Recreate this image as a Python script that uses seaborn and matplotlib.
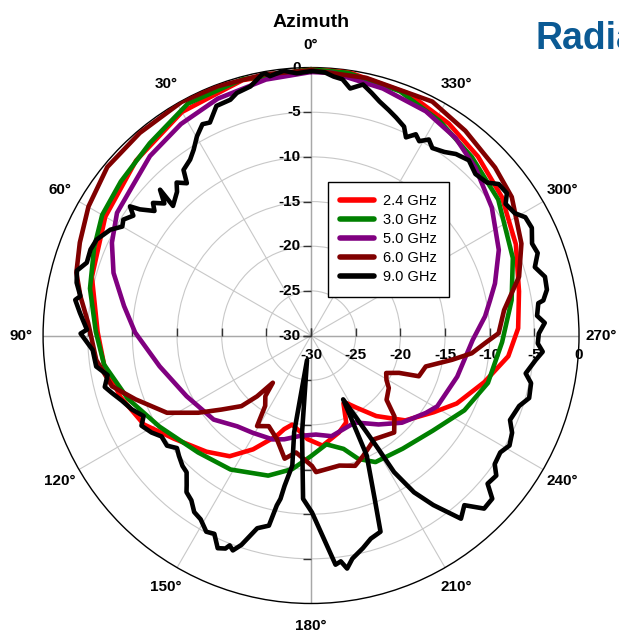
import numpy as np
import pandas as pd
import matplotlib
matplotlib.use('Agg')
import matplotlib.pyplot as plt
import seaborn as sns


freqs = ['2.4 GHz', '3.0 GHz', '5.0 GHz', '6.0 GHz', '9.0 GHz']
colors = ['#ff0000', '#008000', '#800080', '#800000', '#000000']

# azimuth angle (deg) and gain (dB)
ang_24 = [0, 15, 30, 45, 60, 75, 89, 98, 108, 118,
          127, 138, 146, 153, 161, 164, 168, 174, 178, 186,
          196, 202, 205.6, 208, 212, 219, 228, 238, 245, 255,
          264, 272, 282, 294, 306, 317, 327, 338, 352, 360]
db_24 = [-0.2, -0.4, -1.1, -2.3, -3.4, -4.6, -6.1, -6.6, -7.6, -8.8,
         -10.8, -12.5, -13.7, -15.7, -18.1, -19.1, -19.8, -19.1, -18.4, -17.6,
         -18.7, -19.5, -21.6, -21.4, -20.5, -18.4, -15.8, -13.8, -12.0, -9.9,
         -7.8, -6.8, -6.2, -4.9, -3.6, -2.6, -1.7, -0.8, -0.2, -0.2]

ang_30 = [0, 15, 28, 40, 51, 60, 68, 78, 89, 98,
          109, 121, 136, 149, 163, 172, 180, 188, 196, 201,
          207, 219, 232, 244, 255, 268, 280, 291, 306, 318,
          329, 340, 352, 360]
db_30 = [-0.2, -0.3, -0.6, -1.9, -2.6, -3.0, -3.8, -4.7, -5.9, -6.6,
         -8.3, -10.2, -11.8, -12.5, -13.6, -14.9, -16.5, -17.7, -16.8, -15.2,
         -14.1, -13.7, -12.7, -10.9, -9.5, -8.6, -7.2, -5.8, -4.1, -3.1,
         -2.0, -0.9, -0.3, -0.2]

ang_50 = [0, 10, 21.5, 31.6, 41.9, 51, 57.7, 65, 72.4, 81,
          89, 101.5, 116, 130.8, 140.9, 149, 159.7, 165.5, 173.8, 182.8,
          191.5, 199, 206.8, 217.2, 226.2, 236, 240.7, 254.3, 268.4, 276.3,
          281, 285.8, 294.5, 305.3, 315.6, 323.8, 332.9, 343.8, 355.2, 360]
db_50 = [-0.5, -0.9, -1.5, -2.2, -3.0, -4.0, -4.3, -5.4, -6.8, -8.8,
         -10.3, -12.7, -14.5, -15.6, -16.9, -17.3, -17.6, -18.0, -18.7, -18.9,
         -18.5, -18.9, -19.1, -17.5, -15.9, -14.5, -13.8, -13.0, -11.9, -10.4,
         -9.6, -8.6, -6.9, -5.2, -3.7, -2.6, -1.8, -1.2, -0.5, -0.5]

ang_60 = [0, 10, 20.5, 29, 40.2, 50.4, 59.9, 68.1, 75, 80.3,
          86.7, 96.5, 104.3, 110, 118.2, 124.4, 129.6, 135.4, 138.4, 141,
          143, 146.9, 149.2, 155, 161.7, 167.9, 172.7, 180.4, 182.1, 192.3,
          198.7, 203.3, 211.5, 220.6, 225.9, 229.6, 236, 239.5, 243.5, 247,
          249.3, 254.9, 260.2, 263.7, 267.5, 270.7, 277.5, 285.8, 293.6, 304.6,
          312.4, 323, 332.6, 347.9, 360]
db_60 = [-0.3, -0.3, -0.2, -0.1, -0.3, -0.4, -1.2, -2.1, -2.8, -3.8,
         -5.0, -5.8, -7.0, -9.1, -11.7, -14.7, -17.0, -18.9, -20.9, -23.2,
         -21.5, -20.6, -18.2, -18.8, -17.8, -15.9, -16.8, -15.4, -14.7, -15.1,
         -14.6, -15.3, -16.4, -15.7, -17.0, -18.9, -19.5, -20.2, -20.6, -19.3,
         -17.1, -16.7, -14.0, -11.9, -10.5, -9.0, -8.2, -5.8, -4.3, -2.7,
         -2.1, -1.3, -0.5, -0.5, -0.3]

ang_90 = [0, 3.1, 5.9, 9, 10.2, 13.7, 17, 18.9, 22.4, 25.4,
          27.2, 29.8, 32.3, 34.5, 37.6, 39.2, 41.3, 43, 46.8, 46,
          48, 50, 51.5, 53.6, 54.5, 56, 58.3, 60, 62.2, 65.9,
          68.7, 72, 74.5, 77.3, 80.3, 81.4, 84.4, 88.5, 89.5, 93.8,
          98.2, 101, 104, 106.1, 109, 112.4, 115.7, 118, 121.3, 124,
          127.4, 130, 132.3, 135.4, 137.7, 140.3, 141.5, 144, 146.5, 149,
          151.9, 154, 156.3, 158.1, 158.8, 160, 161.6, 163, 164.4, 167.5,
          168.6, 169.4, 170, 171.8, 170.1, 170.7, 174.7, 177.2, 180.3, 183.6,
          186.1, 187.5, 188.8, 190.5, 193.7, 196.4, 199.5, 201.3, 204.9, 206.7,
          209.9, 210.7, 211.3, 213.3, 215.8, 219.3, 222.1, 225, 228, 230,
          232.9, 235, 238.3, 241, 244.2, 247, 251.3, 254, 257.8, 260,
          263.8, 266, 268, 270.5, 273.1, 275, 278.1, 278.6, 281, 284.1,
          287, 290, 292.6, 296, 298.9, 301, 304.1, 306, 308.9, 311,
          314.5, 318, 321.4, 324, 327.1, 329, 330.9, 332.5, 334.4, 336,
          338.7, 341, 343.7, 346, 348.3, 351, 353, 355, 357, 359.5, 360]
db_90 = [-0.4, -0.6, -0.2, -0.6, -0.1, -1.3, -1.6, -2.1, -2.2, -3.6,
         -3.4, -4.3, -5.4, -6.1, -6.6, -8.0, -7.2, -8.0, -8.8, -6.5,
         -7.9, -6.9, -7.6, -6.2, -5.1, -6.0, -5.3, -5.6, -4.6, -3.7,
         -3.5, -3.6, -2.8, -3.1, -3.8, -3.3, -4.0, -4.9, -4.2, -5.5,
         -5.7, -6.8, -6.2, -6.8, -7.6, -8.3, -9.2, -8.5, -9.1, -9.8,
         -9.7, -10.4, -10.0, -9.5, -9.3, -8.2, -7.6, -7.2, -6.3, -6.0,
         -5.1, -5.3, -4.0, -4.3, -4.8, -4.4, -5.3, -6.5, -7.6, -8.2,
         -10.6, -11.4, -12.9, -15.3, -19.0, -27.2, -19.1, -11.7, -10.2, -7.2,
         -4.2, -4.5, -3.6, -4.6, -5.5, -6.3, -6.7, -10.4, -15.2, -22.0,
         -17.5, -15.2, -12.1, -9.0, -6.6, -3.5, -4.4, -2.6, -2.7, -4.2,
         -4.0, -4.9, -5.1, -4.6, -5.0, -5.8, -5.4, -4.6, -4.8, -5.6,
         -4.7, -4.0, -4.6, -4.5, -3.8, -4.6, -4.3, -3.7, -3.1, -3.0,
         -3.8, -3.0, -3.2, -2.5, -2.6, -3.4, -3.7, -2.9, -3.0, -3.9,
         -4.2, -3.6, -4.0, -4.6, -5.0, -4.4, -5.1, -4.6, -5.4, -4.4,
         -3.8, -3.3, -2.7, -2.0, -1.3, -2.0, -1.1, -0.9, -0.5, -0.4, -0.4]

r_ticks = [-30, -25, -20, -15, -10, -5, 0]
theta_ticks = list(range(0, 360, 30))

series = [(ang_24, db_24), (ang_30, db_30), (ang_50, db_50), (ang_60, db_60), (ang_90, db_90)]
frames = []
for name, (a, d) in zip(freqs, series):
    frames.append(pd.DataFrame({'theta': np.deg2rad(a), 'gain': d, 'freq': name}))
df = pd.concat(frames, ignore_index=True)

sns.set_theme(style='white', rc={'text.color': 'black', 'xtick.color': 'black',
                                 'ytick.color': 'black', 'axes.labelcolor': 'black'})
plt.rcParams['font.family'] = ['Liberation Sans', 'DejaVu Sans']

fig = plt.figure(figsize=(6.19, 6.32), dpi=100)
ax = fig.add_axes([0.0695, 0.0451, 0.866, 0.848], projection='polar')
ax.set_theta_zero_location('N')
ax.set_theta_direction(1)

# grid
ax.set_rgrids(r_ticks[1:-1], labels=[])
ax.set_thetagrids(theta_ticks, labels=[f'{t}°' for t in theta_ticks],
                  fontsize=11, fontweight='bold', color='black')
ax.grid(True, color='#c8c8c8', lw=0.8)
ax.spines['polar'].set_color('black')
ax.spines['polar'].set_linewidth(1.0)
ax.tick_params(axis='x', direction='out', length=4, width=1, color='black', pad=5)
for t in [0, 90, 180, 270]:
    ax.plot([np.deg2rad(t)] * 2, [-30, 0], color='#a8a8a8', lw=1, zorder=1)

sns.lineplot(data=df, x='theta', y='gain', hue='freq', palette=dict(zip(freqs, colors)),
             sort=False, estimator=None, lw=3.3, ax=ax, zorder=3)
ax.lines[-1].set_linewidth(3.7)
ax.set_rlim(-30, 0)
ax.set_xlabel('')
ax.set_ylabel('')

# radial axes ticks and labels
rt = np.array(r_ticks[:-1])
for t in [0, 180]:
    ax.plot(np.full(len(rt), np.deg2rad(t)), rt, ls='none', marker=0, ms=6, mew=1,
            color='#333333', zorder=2, clip_on=False)
for t in [90, 270]:
    ax.plot(np.full(len(rt), np.deg2rad(t)), rt, ls='none', marker=2, ms=6, mew=1,
            color='#333333', zorder=2, clip_on=False)
for v in r_ticks:
    ax.annotate(f'{v}', xy=(0, v), xytext=(-7.5, 0), textcoords='offset points',
                ha='right', va='center', fontsize=11, fontweight='bold', zorder=1)
    ax.annotate(f'{v}', xy=(np.deg2rad(270), v), xytext=(0, -9), textcoords='offset points',
                ha='center', va='top', fontsize=11, fontweight='bold', zorder=1)

handles, labels = ax.get_legend_handles_labels()
leg = ax.legend(handles, labels, loc='upper left', bbox_to_anchor=(0.530, 0.712),
                bbox_transform=fig.transFigure, borderaxespad=0, fontsize=10.5,
                frameon=True, fancybox=False, edgecolor='black', framealpha=1,
                handlelength=2.3, handletextpad=0.6, labelspacing=0.34, borderpad=0.85)
leg.get_frame().set_linewidth(1.0)
for h in leg.get_lines():
    h.set_linewidth(4.0)

fig.text(0.503, 1 - 26.7 / 632, 'Azimuth', ha='center', va='baseline',
         fontsize=14, fontweight='bold')
fig.text(535 / 619, 1 - 49.3 / 632, 'Radia', ha='left', va='baseline',
         fontsize=27, fontweight='bold', color='#0b5a94')

fig.savefig('out.png', dpi=100)
